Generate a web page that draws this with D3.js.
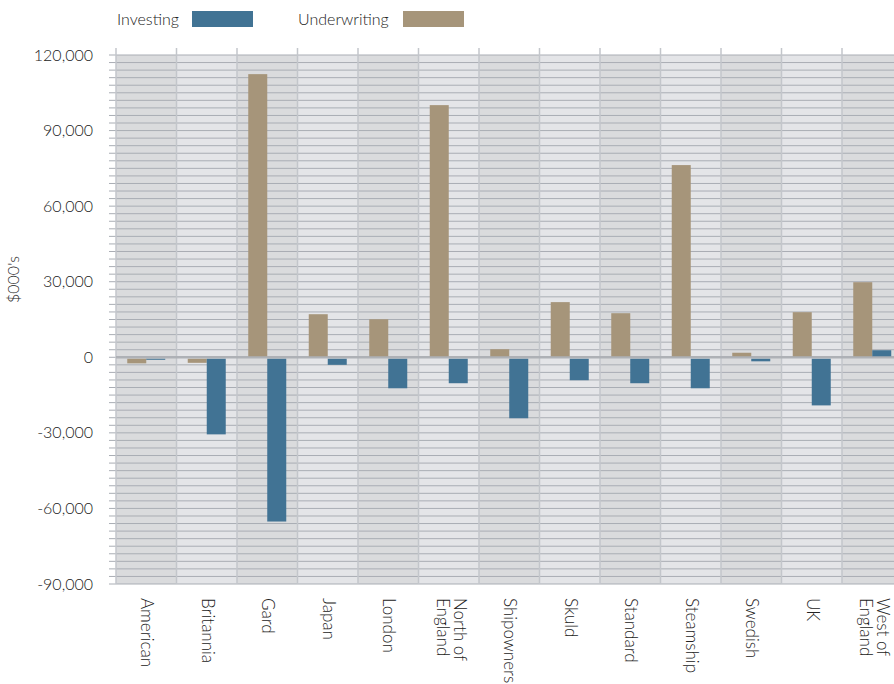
<!DOCTYPE html>
<html>
<head>
<meta charset="utf-8">
<script src="https://cdn.jsdelivr.net/npm/d3@7"></script>
<style>
  body { margin: 0; background: #fff; }
  text { font-family: Lato, "Open Sans", sans-serif; font-weight: 300; fill: #222; }
</style>
</head>
<body>
<svg id="chart" width="894" height="684"></svg>
<script>
const categories = ['American', 'Britannia', 'Gard', 'Japan', 'London', 'North of\nEngland',
  'Shipowners', 'Skuld', 'Standard', 'Steamship', 'Swedish', 'UK', 'West of\nEngland'];
const series = ['Underwriting', 'Investing'];
const underwriting = [-2400, -2200, 112400, 17100, 15100, 100100, 3200, 21900, 17500, 76300, 1800, 17900, 29800];
const investing = [-500, -30600, -65200, -3000, -12300, -10300, -24200, -9100, -10300, -12300, -1600, -19100, 2800];
const yTicks = [-90000, -60000, -30000, 0, 30000, 60000, 90000, 120000];
const legendItems = ['Investing', 'Underwriting'];

const colors = { Investing: '#417394', Underwriting: '#a6957a' };

const svg = d3.select('#chart');
const plotLeft = 116, plotTop = 55, plotBottom = 584;
const step = 60.5;

const x = d3.scaleBand()
  .domain(categories)
  .range([plotLeft, plotLeft + step * categories.length])
  .padding(0);

const xInner = d3.scaleBand()
  .domain(series)
  .range([11.25, 49.25]);

const y = d3.scaleLinear()
  .domain([-90000, 120000])
  .range([plotBottom, plotTop]);

const plotRight = x.range()[1];

// plain hyphen for negatives, like the original
const fmt = d3.formatLocale({ decimal: '.', thousands: ',', grouping: [3], currency: ['$', ''], minus: '-' }).format(',');

// Alternating band backgrounds
svg.append('g')
  .selectAll('rect')
  .data(categories)
  .join('rect')
  .attr('x', d => x(d))
  .attr('y', plotTop)
  .attr('width', x.bandwidth())
  .attr('height', plotBottom - plotTop)
  .attr('fill', (d, i) => i % 2 === 0 ? '#dadbdd' : '#e4e5e8');

// Minor gridlines every 3,000
const grid = d3.range(-90000, 120001, 3000);
svg.append('g')
  .selectAll('line')
  .data(grid)
  .join('line')
  .attr('x1', plotLeft - 7)
  .attr('x2', plotRight)
  .attr('y1', d => y(d))
  .attr('y2', d => y(d))
  .attr('stroke', '#a9adb4')
  .attr('stroke-width', 1);

// Vertical band separators
svg.append('g')
  .selectAll('line')
  .data(categories)
  .join('line')
  .attr('x1', d => x(d))
  .attr('x2', d => x(d))
  .attr('y1', plotTop - 7)
  .attr('y2', plotBottom)
  .attr('stroke', '#c3c6cb')
  .attr('stroke-width', 1.5);

// Zero line
svg.append('line')
  .attr('x1', plotLeft)
  .attr('x2', plotRight)
  .attr('y1', y(0))
  .attr('y2', y(0))
  .attr('stroke', '#aeb1b6')
  .attr('stroke-width', 2.5);

// Bars
const rows = categories.map((c, i) => ({ cat: c, Underwriting: underwriting[i], Investing: investing[i] }));
const groups = svg.append('g')
  .selectAll('g')
  .data(rows)
  .join('g')
  .attr('transform', d => `translate(${x(d.cat)},0)`);

groups.selectAll('rect')
  .data(d => series.map(s => ({ s, v: d[s] })))
  .join('rect')
  .attr('x', d => xInner(d.s))
  .attr('width', xInner.bandwidth())
  .attr('y', d => d.v >= 0 ? y(d.v) : y(0) + 1.5)
  .attr('height', d => d.v >= 0 ? y(0) - 1 - y(d.v) : Math.max(1, y(d.v) - y(0) - 1.5))
  .attr('fill', d => colors[d.s]);

// Y axis labels
svg.append('g')
  .selectAll('text')
  .data(yTicks)
  .join('text')
  .attr('x', 93)
  .attr('y', d => y(d))
  .attr('dy', '0.35em')
  .attr('text-anchor', 'end')
  .attr('font-size', '16px')
  .text(d => fmt(d));

svg.append('text')
  .attr('transform', `translate(19,${(plotTop + plotBottom) / 2 - 40}) rotate(-90)`)
  .attr('text-anchor', 'middle')
  .attr('font-size', '16px')
  .text("$000's");

// X labels, rotated
const xl = svg.append('g')
  .selectAll('text')
  .data(categories)
  .join('text')
  .attr('font-size', '17px')
  .attr('transform', d => {
    const lines = d.split('\n').length;
    const cx = x(d) + x.bandwidth() / 2 - 5 + (lines - 1) * 10;
    return `translate(${cx},598) rotate(90)`;
  });

xl.selectAll('tspan')
  .data(d => d.split('\n'))
  .join('tspan')
  .attr('x', 0)
  .attr('dy', (d, i) => i === 0 ? '0em' : '1.0em')
  .text(d => d);

// Legend
const legend = svg.append('g');
const legendPos = [{ tx: 117, rx: 192 }, { tx: 298, rx: 403 }];
legendItems.forEach((name, i) => {
  legend.append('text')
    .attr('x', legendPos[i].tx)
    .attr('y', 19)
    .attr('dy', '0.35em')
    .attr('font-size', '16px')
    .text(name);
  legend.append('rect')
    .attr('x', legendPos[i].rx)
    .attr('y', 11)
    .attr('width', 61)
    .attr('height', 16)
    .attr('fill', colors[name]);
});
</script>
</body>
</html>
